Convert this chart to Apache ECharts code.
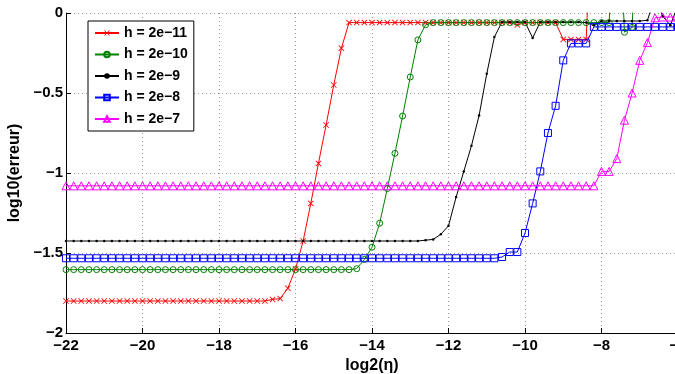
<!DOCTYPE html>
<html>
<head>
<meta charset="utf-8">
<script src="https://cdn.jsdelivr.net/npm/echarts@6/dist/echarts.min.js"></script>
<style>
    html, body { margin: 0; padding: 0; background: #fff; }
    #chart { width: 675px; height: 374px; }
</style>
</head>
<body>
<div id="chart"></div>
<script>
// log2(eta) sample points
const xs = [
    -22.0, -21.8, -21.6, -21.4, -21.2, -21.0, -20.8, -20.6, -20.4, -20.2,
    -20.0, -19.8, -19.6, -19.4, -19.2, -19.0, -18.8, -18.6, -18.4, -18.2,
    -18.0, -17.8, -17.6, -17.4, -17.2, -17.0, -16.8, -16.6, -16.4, -16.2,
    -16.0, -15.8, -15.6, -15.4, -15.2, -15.0, -14.8, -14.6, -14.4, -14.2,
    -14.0, -13.8, -13.6, -13.4, -13.2, -13.0, -12.8, -12.6, -12.4, -12.2,
    -12.0, -11.8, -11.6, -11.4, -11.2, -11.0, -10.8, -10.6, -10.4, -10.2,
    -10.0, -9.8, -9.6, -9.4, -9.2, -9.0, -8.8, -8.6, -8.4, -8.2,
    -8.0, -7.8, -7.6, -7.4, -7.2, -7.0, -6.8, -6.6, -6.4, -6.2,
    -6.0
];

// log10(erreur), one array per h (values above 0 are off the top of the plot)
const errH11 = [
    -1.8, -1.8, -1.8, -1.8, -1.8, -1.8, -1.8, -1.8, -1.8, -1.8,
    -1.8, -1.8, -1.8, -1.8, -1.8, -1.8, -1.8, -1.8, -1.8, -1.8,
    -1.8, -1.8, -1.8, -1.8, -1.8, -1.8, -1.8, -1.79, -1.785, -1.72,
    -1.6, -1.425, -1.19, -0.94, -0.7, -0.45, -0.22, -0.06, -0.06, -0.06,
    -0.06, -0.06, -0.06, -0.06, -0.06, -0.06, -0.06, -0.06, -0.06, -0.06,
    -0.06, -0.06, -0.06, -0.06, -0.06, -0.06, -0.06, -0.06, -0.06, -0.075,
    -0.06, -0.06, -0.06, -0.06, -0.06, -0.165, -0.165, -0.165, -0.165, 1,
    1, 1, 1, 1, 1, 1, 1, 1, 1, 1,
    1
];
const errH10 = [
    -1.604, -1.604, -1.604, -1.604, -1.604, -1.604, -1.604, -1.604, -1.604, -1.604,
    -1.604, -1.604, -1.604, -1.604, -1.604, -1.604, -1.604, -1.604, -1.604, -1.604,
    -1.604, -1.604, -1.604, -1.604, -1.604, -1.604, -1.604, -1.604, -1.604, -1.604,
    -1.604, -1.604, -1.604, -1.604, -1.604, -1.604, -1.604, -1.604, -1.598, -1.54,
    -1.464, -1.314, -1.097, -0.877, -0.644, -0.4, -0.168, -0.074, -0.06, -0.06,
    -0.06, -0.06, -0.06, -0.06, -0.06, -0.06, -0.06, -0.06, -0.06, -0.06,
    -0.06, -0.06, -0.06, -0.06, -0.06, -0.06, -0.06, -0.06, -0.06, -0.06,
    -0.06, -0.06, 1, -0.12, -0.09, 1, 1, 1, 1, 1,
    1
];
const errH9 = [
    -1.425, -1.425, -1.425, -1.425, -1.425, -1.425, -1.425, -1.425, -1.425, -1.425,
    -1.425, -1.425, -1.425, -1.425, -1.425, -1.425, -1.425, -1.425, -1.425, -1.425,
    -1.425, -1.425, -1.425, -1.425, -1.425, -1.425, -1.425, -1.425, -1.425, -1.425,
    -1.425, -1.425, -1.425, -1.425, -1.425, -1.425, -1.425, -1.425, -1.425, -1.425,
    -1.425, -1.425, -1.425, -1.425, -1.425, -1.425, -1.425, -1.42, -1.415, -1.383,
    -1.33, -1.15, -0.99, -0.83, -0.64, -0.38, -0.15, -0.056, -0.056, -0.056,
    -0.056, -0.156, -0.056, -0.056, -0.056, -0.056, -0.056, -0.056, -0.06, -0.077,
    -0.05, -0.05, -0.05, -0.05, -0.05, -0.05, -0.046, 0.1, -0.02, -0.077,
    0.05
];
const errH8 = [
    -1.533, -1.533, -1.533, -1.533, -1.533, -1.533, -1.533, -1.533, -1.533, -1.533,
    -1.533, -1.533, -1.533, -1.533, -1.533, -1.533, -1.533, -1.533, -1.533, -1.533,
    -1.533, -1.533, -1.533, -1.533, -1.533, -1.533, -1.533, -1.533, -1.533, -1.533,
    -1.533, -1.533, -1.533, -1.533, -1.533, -1.533, -1.533, -1.533, -1.533, -1.533,
    -1.533, -1.533, -1.533, -1.533, -1.533, -1.533, -1.533, -1.533, -1.533, -1.533,
    -1.533, -1.533, -1.533, -1.533, -1.533, -1.533, -1.533, -1.525, -1.494, -1.494,
    -1.375, -1.19, -0.99, -0.75, -0.58, -0.296, -0.19, -0.19, -0.19, -0.087,
    -0.087, -0.087, -0.087, -0.087, -0.087, -0.087, -0.087, -0.087, -0.087, -0.087,
    -0.087
];
const errH7 = [
    -1.08, -1.08, -1.08, -1.08, -1.08, -1.08, -1.08, -1.08, -1.08, -1.08,
    -1.08, -1.08, -1.08, -1.08, -1.08, -1.08, -1.08, -1.08, -1.08, -1.08,
    -1.08, -1.08, -1.08, -1.08, -1.08, -1.08, -1.08, -1.08, -1.08, -1.08,
    -1.08, -1.08, -1.08, -1.08, -1.08, -1.08, -1.08, -1.08, -1.08, -1.08,
    -1.08, -1.08, -1.08, -1.08, -1.08, -1.08, -1.08, -1.08, -1.08, -1.08,
    -1.08, -1.08, -1.08, -1.08, -1.08, -1.08, -1.08, -1.08, -1.08, -1.08,
    -1.08, -1.08, -1.08, -1.08, -1.08, -1.08, -1.08, -1.08, -1.08, -1.08,
    -0.99, -0.99, -0.91, -0.67, -0.5, -0.296, -0.185, -0.03, -0.025, -0.025,
    -0.025
];

const seriesNames = ['h = 2e\u221211', 'h = 2e\u221210', 'h = 2e\u22129', 'h = 2e\u22128', 'h = 2e\u22127'];
const seriesValues = [errH11, errH10, errH9, errH8, errH7];

const FONT = '"Liberation Sans", Arial, sans-serif';
const crossSymbol = 'path://M1,0 L5,4 L9,0 L10,1 L6,5 L10,9 L9,10 L5,6 L1,10 L0,9 L4,5 L0,1 Z';

// marker style per series (matlab-like: x, o, ., square, triangle)
const markers = [
    { color: '#ff0000', symbol: crossSymbol, size: 6, hollow: false },
    { color: '#008000', symbol: 'circle', size: 6, hollow: true },
    { color: '#000000', symbol: 'circle', size: 2.5, hollow: false },
    { color: '#0000ff', symbol: 'rect', size: 7, hollow: true },
    { color: '#ff00ff', symbol: 'triangle', size: 8, hollow: true }
];

const makeSeries = (i) => {
    const m = markers[i];
    return {
        name: seriesNames[i],
        type: 'line',
        data: xs.map((x, j) => [x, seriesValues[i][j]]),
        color: m.color,
        symbol: m.symbol,
        symbolSize: m.size,
        showAllSymbol: true,
        clip: true,
        lineStyle: { color: m.color, width: 1 },
        itemStyle: m.hollow
            ? { color: 'rgba(255,255,255,0)', borderColor: m.color, borderWidth: 1 }
            : { color: m.color, borderWidth: 0 },
        emphasis: { disabled: true }
    };
};

const minusFmt = (v) => (v < 0 ? '\u2212' + Math.abs(v) : String(v));

const chart = echarts.init(document.getElementById('chart'));

const option = {
    animation: false,
    backgroundColor: '#fff',
    grid: { left: 66, right: -3, top: 13, bottom: 41, outerBoundsMode: 'none', containLabel: false },
    legend: {
        orient: 'vertical',
        left: 88,
        top: 21,
        padding: [5, 6, 5, 6],
        itemGap: 7.5,
        itemWidth: 24,
        itemHeight: 7,
        itemTextGap: 4,
        backgroundColor: '#fff',
        borderColor: '#000',
        borderWidth: 1,
        data: seriesNames,
        textStyle: { fontFamily: FONT, fontWeight: 'bold', fontSize: 14, color: '#000', lineHeight: 14 }
    },
    xAxis: {
        type: 'value',
        min: -22,
        max: -6,
        interval: 2,
        name: 'log2(\u03b7)',
        nameLocation: 'middle',
        nameGap: 12,
        nameTextStyle: { fontFamily: FONT, fontWeight: 'bold', fontSize: 16, color: '#000' },
        axisLine: { onZero: false, lineStyle: { color: '#000', width: 1 } },
        axisTick: { inside: true, length: 5, lineStyle: { color: '#000' } },
        axisLabel: {
            fontFamily: FONT, fontWeight: 'bold', fontSize: 15, color: '#000', margin: 5,
            formatter: minusFmt
        },
        splitLine: { show: true, lineStyle: { color: '#999', type: [1, 3], width: 1 } }
    },
    yAxis: {
        type: 'value',
        min: -2,
        max: 0,
        interval: 0.5,
        name: 'log10(erreur)',
        nameLocation: 'middle',
        nameGap: 34,
        nameTextStyle: { fontFamily: FONT, fontWeight: 'bold', fontSize: 16, color: '#000' },
        axisLine: { show: true, onZero: false, lineStyle: { color: '#000', width: 1 } },
        axisTick: { show: true, inside: true, length: 5, lineStyle: { color: '#000' } },
        axisLabel: {
            fontFamily: FONT, fontWeight: 'bold', fontSize: 15, color: '#000', margin: 3,
            formatter: minusFmt
        },
        splitLine: { show: true, lineStyle: { color: '#999', type: [1, 3], width: 1 } }
    },
    series: seriesNames.map((n, i) => makeSeries(i))
};

chart.setOption(option);
</script>
</body>
</html>
